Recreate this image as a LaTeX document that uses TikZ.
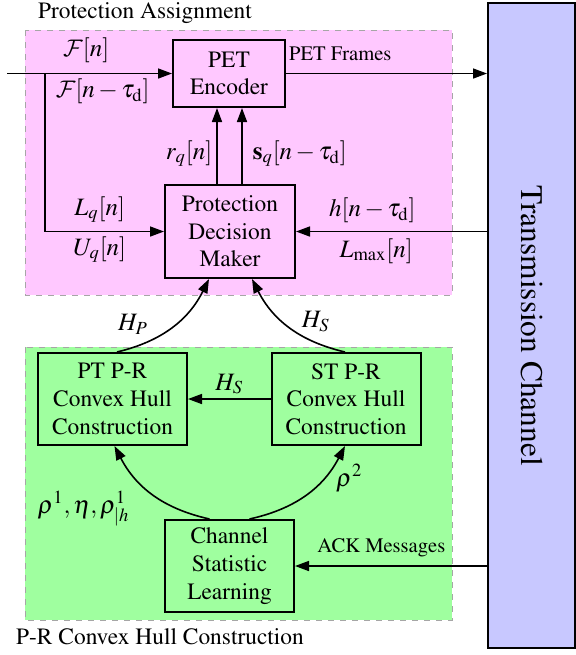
\documentclass[tikz,border=0pt]{standalone}
\usepackage[T1]{fontenc}
\usepackage{mathptmx}
\DeclareMathAlphabet{\mathcal}{OMS}{cmsy}{m}{n}
\usetikzlibrary{positioning,arrows.meta,calc}
\definecolor{Orchid}{HTML}{FFC8FF}
\definecolor{Mint}{HTML}{9FFF9F}
\definecolor{Lavender}{HTML}{C8C8FF}
\newcommand{\boxfont}{\fontsize{11.7}{13.8}\selectfont}
\newcommand{\tagfont}{\fontsize{10.3}{12}\selectfont}
\newcommand{\mathfont}{\fontsize{12.5}{14}\selectfont}
\newcommand{\chanfont}{\fontsize{15.7}{18}\selectfont}

\begin{document}
\begin{tikzpicture}[x=0.5pt, y=-0.5pt,
    block/.style={rectangle, draw, line width=1pt, text=black, inner sep=0pt, align=center, font=\boxfont},
    region/.style={draw=gray!70, dashed, line width=0.5pt},
    arrow/.style={-{Triangle[length=7pt,width=5pt]}, line width=0.8pt},
    tag/.style={font=\tagfont, inner sep=2pt},
    sym/.style={font=\mathfont, inner sep=2pt}
]
\useasboundingbox (0,0) rectangle (576,655);

% shaded areas
\draw[region, fill=Orchid] (25,30) rectangle (452,295);
\draw[region, fill=Mint] (25,347) rectangle (452,620);
\node[font=\boxfont] (protlbl) at (145,13) {Protection Assignment};
\node[font=\boxfont] (hulllbl) at (160,637) {P-R Convex Hull Construction};

% blocks
\node[block, minimum width=56pt, minimum height=33.5pt] (pet) at (229,73.5) {PET\\Encoder};
\node[block, minimum width=65pt, minimum height=46.5pt] (pdm) at (230,231.5) {Protection\\Decision\\Maker};
\node[block, minimum width=74.5pt, minimum height=46pt] (pt) at (112.5,399) {PT P-R\\Convex Hull\\Construction};
\node[block, minimum width=74.5pt, minimum height=46pt] (st) at (346,399) {ST P-R\\Convex Hull\\Construction};
\node[block, minimum width=64.5pt, minimum height=46pt] (csl) at (229.5,566) {Channel\\Statistic\\Learning};
\node[draw, line width=1pt, fill=Lavender, inner sep=0pt, minimum width=322.5pt, minimum height=43.5pt,
      rotate=-90, font=\chanfont] (chan) at (531.5,325.5) {Transmission Channel};

\coordinate (src) at (7,73.5);
\coordinate (split) at (45,73.5);

% protection assignment
\draw[arrow] (src) -- (pet.west)
    node[sym, pos=0.48, above=3pt] {$\mathcal{F}[n]$}
    node[sym, pos=0.58, below] {$\mathcal{F}[n-\tau_{\mathrm{d}}]$};
\draw[arrow] (split) |- (pdm.west)
    node[sym, pos=0.73, above=2pt] {$L_q[n]$}
    node[sym, pos=0.73, below] {$U_q[n]$};
\draw[arrow] (pet.east) -- (pet.east -| chan.south)
    node[tag, pos=0.27, above=4pt] {PET Frames};
\draw[arrow] ([xshift=-6.5pt]pdm.north) -- ([xshift=-6.5pt]pdm.north |- pet.south)
    node[sym, pos=0.4, left] {$r_q[n]$};
\draw[arrow] ([xshift=6pt]pdm.north) -- ([xshift=6pt]pdm.north |- pet.south)
    node[sym, pos=0.4, right=3pt] {$\mathbf{s}_q[n-\tau_{\mathrm{d}}]$};
\draw[arrow] (pdm.east -| chan.south) -- (pdm.east)
    node[sym, pos=0.6, above=2pt] {$h[n-\tau_{\mathrm{d}}]$}
    node[sym, pos=0.58, below=1pt] {$L_{\max}[n]$};

% convex hull construction
\draw[arrow] ([xshift=2.25pt]pt.north) to[bend right=25]
    node[sym, pos=0.3, above left] {$H_P$} ([xshift=-10.5pt]pdm.south);
\draw[arrow] ([xshift=-0.5pt]st.north) to[bend left=25]
    node[sym, pos=0.35, above, xshift=6pt] {$H_S$} ([xshift=11pt]pdm.south);
\draw[arrow] (st.west) -- (pt.east)
    node[sym, midway, above] {$H_S$};
\draw[arrow] ([xshift=-10pt]csl.north) to[bend left=25]
    node[sym, pos=0.6, below left, xshift=-5pt] {$\rho^1,\eta,\rho^1_{|h}$} ([xshift=1pt]pt.south);
\draw[arrow] ([xshift=10pt]csl.north) to[bend right=25]
    node[sym, pos=0.7, right=4pt] {$\rho^2$} ([xshift=-0.5pt]st.south);
\draw[arrow] (csl.east -| chan.south) -- (csl.east)
    node[tag, pos=0.55, above=2pt] {ACK Messages};
\end{tikzpicture}
\end{document}
